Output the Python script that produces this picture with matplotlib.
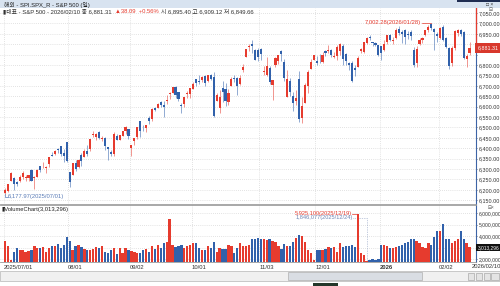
import matplotlib.pyplot as plt
from matplotlib.patches import Rectangle
from matplotlib.ticker import FuncFormatter

plt.rcParams['font.family'] = ['Liberation Sans', 'Noto Sans CJK KR', 'DejaVu Sans']

# S&P 500 daily candles, 2025/07/01 .. 2026/02
opens = [
    6187, 6193, 6243, 6259, 6239, 6242, 6264, 6256, 6255, 6296, 6258, 6264, 6315, 6305, 6307, 6326, 6368, 6370, 6397, 6409, 6379, 6428,
    6287, 6272, 6330, 6312, 6369, 6360, 6389, 6396, 6463, 6454, 6479, 6445, 6448, 6406, 6384, 6371, 6457, 6441, 6458, 6485, 6491,
    6401, 6437, 6456, 6529, 6498, 6497, 6545, 6540, 6594, 6595, 6620, 6610, 6625, 6661, 6665, 6696, 6668, 6607, 6615, 6661, 6661,
    6685, 6732, 6723, 6730, 6747, 6723, 6754, 6740, 6626, 6595, 6690, 6685, 6620, 6700, 6737, 6739, 6710, 6774, 6837, 6886, 6903, 6873, 6873,
    6876, 6768, 6754, 6788, 6705, 6800, 6818, 6869, 6813, 6646, 6721, 6649, 6629, 6732, 6546, 6619, 6699, 6781, 6822,
    6820, 6831, 6815, 6867, 6866, 6872, 6840, 6842, 6866, 6889, 6855, 6812, 6811, 6785, 6791, 6865, 6864, 6906, 6935, 6910, 6905, 6896,
    6890, 6870, 6910, 6945, 6915, 6928, 6975, 6958, 6968, 6950, 6960, 6872, 6810, 6900, 6920, 6944, 6968, 6995, 6975, 6950,
    6930, 6983, 6930, 6880, 6810, 6880, 6955, 6968, 6960, 6830, 6857,
]
highs = [
    6211, 6228, 6285, 6262, 6242, 6269, 6290, 6273, 6272, 6302, 6268, 6302, 6316, 6336, 6313, 6360, 6382, 6390, 6401, 6410, 6394, 6428,
    6288, 6330, 6344, 6349, 6376, 6395, 6415, 6446, 6481, 6474, 6482, 6458, 6456, 6408, 6393, 6478, 6467, 6466, 6484, 6505, 6492,
    6416, 6449, 6502, 6533, 6511, 6513, 6555, 6592, 6600, 6616, 6627, 6625, 6657, 6672, 6694, 6697, 6672, 6619, 6645, 6675, 6689,
    6718, 6733, 6750, 6749, 6752, 6754, 6759, 6765, 6666, 6678, 6724, 6715, 6686, 6744, 6752, 6741, 6752, 6807, 6876, 6899, 6920, 6876, 6880,
    6882, 6797, 6838, 6794, 6730, 6838, 6849, 6870, 6827, 6775, 6738, 6670, 6680, 6769, 6644, 6715, 6776, 6827, 6850,
    6843, 6851, 6862, 6870, 6895, 6877, 6864, 6895, 6905, 6901, 6857, 6814, 6817, 6800, 6841, 6880, 6910, 6933, 6945, 6912, 6909, 6897,
    6893, 6920, 6946, 6950, 6935, 6978, 6986, 6966, 6972, 6965, 6966, 6885, 6890, 6930, 6935, 6970, 6990, 7002.28, 6980, 6960,
    6985, 6990, 6935, 6885, 6890, 6970, 6975, 6975, 6965, 6855, 6909.12,
]
lows = [
    6177.97, 6189, 6243, 6201, 6218, 6236, 6253, 6244, 6243, 6243, 6202, 6264, 6288, 6303, 6282, 6309, 6361, 6366, 6375, 6363, 6333, 6332,
    6212, 6272, 6289, 6307, 6315, 6360, 6363, 6387, 6452, 6441, 6444, 6437, 6393, 6344, 6361, 6364, 6438, 6438, 6457, 6470, 6444,
    6361, 6416, 6444, 6454, 6485, 6478, 6515, 6533, 6577, 6594, 6600, 6551, 6612, 6636, 6665, 6642, 6625, 6569, 6598, 6641, 6642,
    6685, 6697, 6707, 6717, 6700, 6718, 6727, 6550, 6626, 6570, 6620, 6605, 6608, 6700, 6716, 6656, 6703, 6766, 6837, 6867, 6856, 6822, 6818,
    6824, 6753, 6748, 6707, 6631, 6790, 6805, 6820, 6725, 6646, 6651, 6580, 6608, 6525, 6521, 6619, 6665, 6781, 6822,
    6800, 6812, 6810, 6841, 6858, 6839, 6834, 6826, 6846, 6801, 6801, 6775, 6720, 6748, 6789, 6860, 6858, 6900, 6921, 6892, 6892, 6845,
    6825, 6866, 6900, 6915, 6900, 6925, 6945, 6906, 6900, 6925, 6920, 6790, 6790, 6895, 6905, 6940, 6960, 6970, 6872, 6910,
    6925, 6915, 6880, 6780, 6795, 6870, 6940, 6940, 6830, 6790, 6849.66,
]
closes = [
    6198, 6227, 6279, 6230, 6226, 6263, 6280, 6260, 6269, 6244, 6264, 6297, 6297, 6306, 6310, 6359, 6363, 6389, 6390, 6371, 6363, 6339,
    6238, 6330, 6299, 6345, 6340, 6389, 6373, 6446, 6467, 6469, 6450, 6449, 6411, 6396, 6370, 6467, 6439, 6466, 6481, 6502, 6460,
    6416, 6448, 6502, 6482, 6495, 6513, 6532, 6587, 6584, 6615, 6607, 6600, 6632, 6664, 6694, 6657, 6638, 6605, 6644, 6664, 6688,
    6711, 6715, 6716, 6740, 6715, 6754, 6735, 6553, 6655, 6644, 6671, 6629, 6664, 6735, 6735, 6699, 6738, 6792, 6875, 6891, 6891, 6822, 6840,
    6852, 6772, 6796, 6720, 6729, 6832, 6847, 6851, 6737, 6734, 6672, 6617, 6642, 6539, 6603, 6705, 6766, 6813, 6849,
    6812, 6829, 6850, 6857, 6870, 6847, 6841, 6887, 6901, 6827, 6817, 6800, 6721, 6775, 6835, 6878, 6910, 6932, 6930, 6906, 6896, 6846,
    6858, 6902, 6944, 6921, 6921, 6966, 6956, 6950, 6936, 6945, 6940, 6800, 6875, 6918, 6930, 6966, 6985, 6978, 6960, 6940,
    6978, 6920, 6887, 6795, 6880, 6962, 6968, 6950, 6836, 6843, 6881.31,
]
# volume in millions
volumes = [
    3.55, 3.10, 1.90, 2.65, 2.95, 2.80, 2.80, 2.65, 2.70, 2.80, 3.10, 2.95, 2.95, 3.05, 2.65, 2.95, 3.10, 3.15, 3.30, 2.95, 3.20, 3.95,
    3.55, 2.80, 3.10, 3.20, 3.05, 2.90, 2.80, 2.80, 2.85, 3.05, 2.95, 3.10, 2.65, 2.50, 2.80, 2.95, 2.40, 2.95, 2.50, 2.95, 2.80,
    2.70, 2.60, 2.55, 2.50, 2.80, 2.85, 2.65, 3.10, 2.85, 3.25, 2.95, 3.40, 3.50, 5.45, 3.25, 3.05, 3.10, 3.25, 2.95, 3.10, 3.25,
    3.40, 3.40, 2.95, 2.80, 2.80, 3.10, 2.95, 3.45, 2.65, 2.95, 2.85, 2.85, 3.25, 3.10, 2.50, 3.00, 3.35, 3.10, 3.15, 3.25, 3.75, 3.75, 3.80,
    3.75, 3.70, 3.65, 3.70, 3.55, 3.45, 3.10, 2.90, 3.30, 3.10, 3.10, 3.45, 3.85, 4.05, 4.00, 3.50, 2.80, 2.55, 1.90,
    2.80, 2.80, 2.80, 2.85, 3.05, 2.95, 3.05, 2.65, 3.35, 3.05, 3.10, 3.15, 3.20, 3.05, 5.9251, 2.56, 2.35, 1.846077, 1.90, 2.00, 1.95, 2.00,
    3.20, 3.25, 3.10, 2.95, 2.95, 3.05, 3.10, 3.25, 3.35, 3.50, 3.70, 3.70, 3.55, 3.40, 3.05, 2.95, 3.35, 3.25, 3.95, 4.40,
    4.45, 5.05, 3.75, 3.75, 3.40, 3.55, 3.75, 4.40, 3.75, 3.40, 3.013296,
]
month_pos = [0, 22, 43, 64, 87, 106, 128, 148]
month_labels = ['2025/07/01', '08/01', '09/02', '10/01', '11/03', '12/01', '2026', '02/02']

RED = '#e63b2e'
BLUE = '#3161ab'
GRID = '#c9c9c9'

W, H = 500, 286
fig = plt.figure(figsize=(5, 2.86), dpi=100)


def box(x0, y0, x1, y1):
    return [x0 / W, 1 - y1 / H, (x1 - x0) / W, (y1 - y0) / H]


def frect(x0, y0, x1, y1, **kw):
    fig.patches.append(Rectangle((x0 / W, 1 - y1 / H), (x1 - x0) / W, (y1 - y0) / H,
                                 transform=fig.transFigure, **kw))


# title bar
frect(0, 0, 500, 8, facecolor='#d8e3f0', edgecolor='none')
frect(457, 0, 500, 2, facecolor='#1f2d52', edgecolor='none')
fig.text(4 / W, 1 - 4.5 / H, '해외 - SPI.SPX_R - S&P 500 (일)', fontsize=4.2, va='center', color='#222')
fig.text(486 / W, 1 - 4.8 / H, '□ ×', fontsize=3.6, va='center', color='#333')

ax = fig.add_axes(box(0, 8, 476, 204))
axv = fig.add_axes(box(0, 205, 476, 262))

n = len(closes)
idx = list(range(n))
colors = [RED if c >= o else BLUE for o, c in zip(opens, closes)]
bodies = [max(abs(c - o), 1.2) for o, c in zip(opens, closes)]
bottoms = [min(o, c) for o, c in zip(opens, closes)]

ax.vlines(idx, lows, highs, colors=colors, lw=0.5, alpha=0.75, zorder=2)
ax.bar(idx, bodies, bottom=bottoms, width=0.72, color=colors, zorder=3, linewidth=0)
axv.bar(idx, volumes, width=0.78, color=colors, linewidth=0, zorder=3)

xlim = (-1.7, 160.2)
for a in (ax, axv):
    a.set_xlim(*xlim)
    for p in month_pos:
        a.axvline(p - 0.5, color=GRID, lw=0.5, ls=(0, (1, 2)), zorder=1)
    a.spines['top'].set_visible(False)
    a.spines['left'].set_visible(False)
    a.spines['bottom'].set_color('#9a9a9a')
    a.spines['bottom'].set_linewidth(0.6)
    a.spines['right'].set_color('#3d64a6')
    a.spines['right'].set_linewidth(0.8)
    a.yaxis.tick_right()
    a.tick_params(axis='y', length=1, width=0.5, pad=0.8, colors='#333333')
    a.grid(axis='y', color=GRID, lw=0.5, ls=(0, (1, 2)), zorder=1)

# price axis
last = closes[-1]
ax.set_ylim(6132, 7074)
ax.set_yticks(range(6150, 7051, 50))
ax.yaxis.set_major_formatter(FuncFormatter(
    lambda v, p: '' if abs(v - last) < 40 else f'{v:,.2f}'))
ax.tick_params(axis='y', labelsize=3.9)
ax.set_xticks([])
ax.plot([1, 1], [last, 7074], transform=ax.get_yaxis_transform(), color=RED,
        lw=0.9, clip_on=False, zorder=5)
ax.text(1.003, last, f'{last:,.2f}', transform=ax.get_yaxis_transform(),
        fontsize=3.9, color='white', va='center', ha='left',
        bbox=dict(boxstyle='square,pad=0.45', fc='#d8382c', ec='none'), zorder=6)

# header
renderer = fig.canvas.get_renderer()
hx, hy = 3 / W, 1 - 11.5 / H
for s, c in [('▮대표 - S&P 500 - 2026/02/10 종 6,881.31', '#333333'),
             ('▲38.09  +0.56%', RED),
             ('시 6,895.40 고 6,909.12 저 6,849.66', '#333333')]:
    t = fig.text(hx, hy, s, fontsize=4.2, color=c, va='center')
    bb = t.get_window_extent(renderer)
    hx = (bb.x1 + 3) / W
fig.text(489 / W, 1 - 9.5 / H, '⊟', fontsize=3.4, va='center', color='#555')

# high / low markers
hi_i = highs.index(max(highs))
ax.plot([hi_i - 3.3, hi_i], [highs[hi_i], highs[hi_i]], color=RED, lw=0.5)
ax.text(hi_i - 3.4, highs[hi_i], f'{highs[hi_i]:,.2f}(2026/01/28)', color=RED,
        fontsize=4.2, ha='right', va='center')
lo_i = lows.index(min(lows))
ax.plot([lo_i, lo_i, lo_i + 1.0], [lows[lo_i], 6168, 6168], color='#5b7db8', lw=0.5)
ax.text(lo_i + 1.1, 6168, f'{lows[lo_i]:,.2f}(2025/07/01)', color='#5b7db8',
        fontsize=4.2, ha='left', va='center')

# volume axis
vlast = volumes[-1]
axv.set_ylim(1.74, 6.70)
axv.set_yticks([2, 3, 4, 5, 6])
axv.yaxis.set_major_formatter(FuncFormatter(
    lambda v, p: '' if abs(v - vlast) < 0.4 else f'{v * 1e6:,.0f}'))
axv.tick_params(axis='y', labelsize=3.6)
axv.set_xticks([p - 0.5 for p in month_pos])
axv.set_xticklabels(month_labels, ha='left')
axv.tick_params(axis='x', labelsize=4.2, length=0, pad=2, colors='#333333')
for lab in axv.get_xticklabels():
    if lab.get_text() == '2026':
        lab.set_fontweight('bold')
axv.spines['top'].set_visible(True)
axv.spines['top'].set_color('#9a9a9a')
axv.spines['top'].set_linewidth(0.6)
axv.text(0.003, 0.97, f'▮VolumeChart({vlast * 1e6:,.0f})', transform=axv.transAxes,
         fontsize=4.2, va='top', ha='left', color='#222')
axv.text(1.003, vlast, f'{vlast * 1e6:,.0f}', transform=axv.get_yaxis_transform(),
         fontsize=3.5, color='white', va='center', ha='left',
         bbox=dict(boxstyle='square,pad=0.25', fc='#111111', ec='none'), zorder=6)
fig.text(488 / W, 1 - 207.5 / H, '⊟×', fontsize=3.4, va='center', color='#555')

vmax_i = volumes.index(max(volumes))
vmin_i = volumes.index(min(volumes))
axv.plot([vmax_i - 2.0, vmax_i], [volumes[vmax_i]] * 2, color=RED, lw=0.5)
axv.text(vmax_i - 2.1, volumes[vmax_i], f'{volumes[vmax_i] * 1e6:,.0f}(2025/12/19)', color=RED,
         fontsize=4.1, ha='right', va='center')
axv.plot([vmin_i - 4.5, vmin_i, vmin_i], [5.57, 5.57, volumes[vmin_i]], color='#8a9cc0',
         lw=0.5, ls=(0, (1, 1.5)))
axv.text(vmin_i - 4.6, 5.57, f'{volumes[vmin_i] * 1e6:,.0f}(2025/12/24)', color='#6d84b3',
         fontsize=4.1, ha='right', va='center')

fig.text(472 / W, 1 - 266.5 / H, '2026/02/10', fontsize=4.2, va='center', color='#333')

# scroll bar
frect(0, 271, 500, 281, facecolor='#f0f0f0', edgecolor='#b5b5b5', linewidth=0.5)
frect(288, 272, 422, 280, facecolor='#d9dde3', edgecolor='#b0b0b0', linewidth=0.5)
for bx in (468, 476, 484):
    frect(bx, 273, bx + 6, 280, facecolor='#e4e4e4', edgecolor='#9a9a9a', linewidth=0.4)
frect(491, 273, 499, 280, facecolor='#e4e4e4', edgecolor='#9a9a9a', linewidth=0.4)
frect(313, 283, 338, 286, facecolor='#24372a', edgecolor='none')

fig.savefig('out.png', dpi=100)
